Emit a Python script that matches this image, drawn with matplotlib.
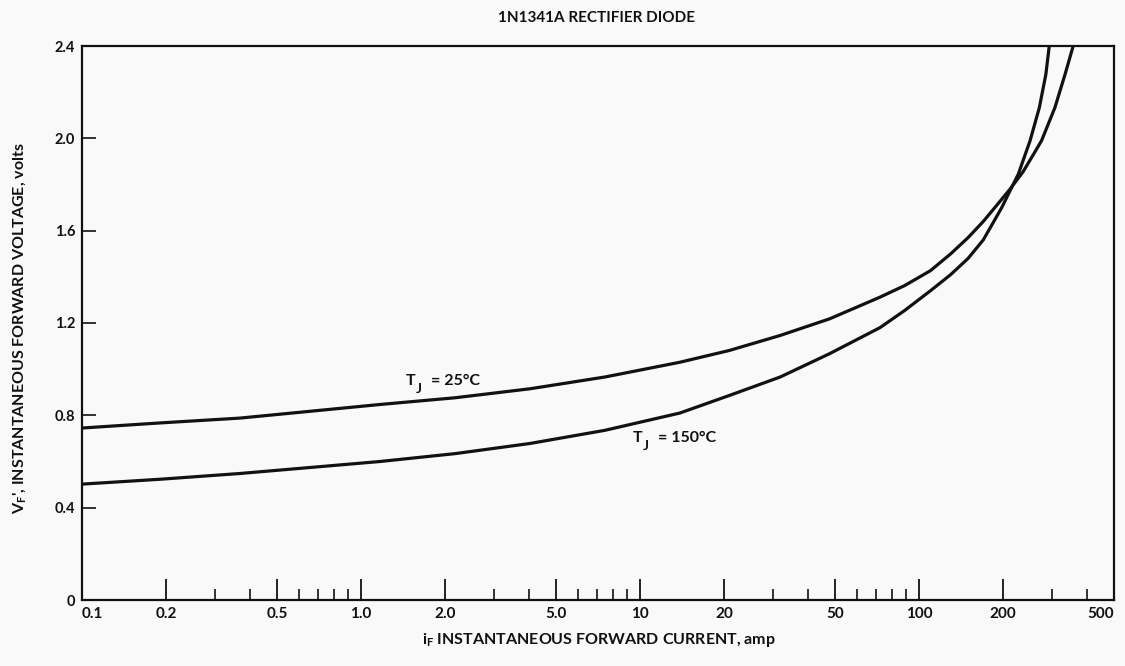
import matplotlib
matplotlib.use("Agg")
import matplotlib.pyplot as plt

# ---- data ----
i_25 = [0.1, 0.19, 0.368, 1.17, 2.17, 4.03, 7.48, 13.9, 20.9, 31.8, 47.8, 72.5, 88.8,
        110, 130, 150, 170, 190, 212, 236, 260, 275, 307, 334, 357]
v_25 = [0.745, 0.767, 0.788, 0.847, 0.876, 0.915, 0.966, 1.03, 1.081, 1.146, 1.218, 1.312, 1.362,
        1.427, 1.50, 1.57, 1.64, 1.71, 1.78, 1.855, 1.94, 1.99, 2.133, 2.278, 2.40]

i_150 = [0.1, 0.19, 0.368, 1.17, 2.17, 4.03, 7.48, 13.9, 20.9, 31.8, 47.8, 72.5, 88.8,
         110, 130, 150, 170, 198, 212, 227, 250, 270, 285, 293]
v_150 = [0.502, 0.523, 0.548, 0.600, 0.634, 0.678, 0.735, 0.810, 0.886, 0.966, 1.067, 1.18, 1.254,
         1.34, 1.41, 1.48, 1.56, 1.70, 1.773, 1.845, 1.989, 2.133, 2.278, 2.40]

x_major = [0.1, 0.2, 0.5, 1, 2, 5, 10, 20, 50, 100, 200, 500]
x_major_labels = ["0.1", "0.2", "0.5", "1.0", "2.0", "5.0", "10", "20", "50", "100", "200", "500"]
x_minor = [0.3, 0.4, 0.6, 0.7, 0.8, 0.9, 3, 4, 6, 7, 8, 9, 30, 40, 60, 70, 80, 90, 300, 400]
y_ticks = [0, 0.4, 0.8, 1.2, 1.6, 2.0, 2.4]
y_labels = ["0", "0.4", "0.8", "1.2", "1.6", "2.0", "2.4"]

curve_label_rest = ["= 25°C", "= 150°C"]
curve_label_pos = [(1.45, 0.93), (9.44, 0.683)]

title = "1N1341A RECTIFIER DIODE"
xlabel = r"i$_{\mathregular{F}}$ INSTANTANEOUS FORWARD CURRENT, amp"
ylabel = r"V$_{\mathregular{F}}$', INSTANTANEOUS FORWARD VOLTAGE, volts"

# ---- figure ----
plt.rcParams['font.family'] = ['Lato', 'DejaVu Sans']
W, H = 1125, 666
fig = plt.figure(figsize=(W / 100, H / 100), dpi=100)
bg = "#f9f9f9"
fig.patch.set_facecolor(bg)
ax = fig.add_axes([82 / W, 66 / H, (1114 - 82) / W, (600 - 46) / H])
ax.set_facecolor(bg)

ink = "#111111"
ax.plot(i_25, v_25, color=ink, lw=2.3, solid_joinstyle="round")
ax.plot(i_150, v_150, color=ink, lw=2.3, solid_joinstyle="round")

ax.set_xscale("log")
ax.set_xlim(0.1, 500)
ax.set_ylim(0, 2.4)

ax.set_xticks(x_major)
ax.set_xticklabels(x_major_labels)
ax.set_xticks(x_minor, minor=True)
ax.set_xticklabels([], minor=True)
ax.set_yticks(y_ticks)
ax.set_yticklabels(y_labels)

ax.tick_params(axis="x", which="major", direction="in", length=15, width=1.3,
               color=ink, labelsize=11, pad=5, labelcolor=ink)
ax.tick_params(axis="x", which="minor", direction="in", length=8, width=1.2, color=ink)
ax.tick_params(axis="y", which="major", direction="in", length=10, width=1.2,
               color=ink, labelsize=10.5, pad=5, labelcolor=ink)
ax.tick_params(axis="y", which="minor", left=False)

xl = ax.get_xticklabels()
xl[0].set_ha("left")
xl[-1].set_ha("right")
for t in ax.get_xticklabels() + ax.get_yticklabels():
    t.set_fontweight("bold")

for s in ax.spines.values():
    s.set_linewidth(1.6)
    s.set_color(ink)

# curve labels: "T" with a large, low subscript "J", then the rest
px = 0.72  # points per pixel at 100 dpi
for rest, (xx, yy) in zip(curve_label_rest, curve_label_pos):
    ax.annotate("T", (xx, yy), xytext=(0, 0), textcoords="offset points",
                fontsize=11.5, fontweight="bold", color=ink, ha="left", va="baseline")
    ax.annotate("J", (xx, yy), xytext=(10 * px, -8 * px), textcoords="offset points",
                fontsize=10, fontweight="bold", color=ink, ha="left", va="baseline")
    ax.annotate(rest, (xx, yy), xytext=(25 * px, 0), textcoords="offset points",
                fontsize=11.5, fontweight="bold", color=ink, ha="left", va="baseline")

fig.text(597 / W, 1 - 18 / H, title, ha="center", va="center",
         fontsize=11, fontweight="bold", color=ink)
fig.text(599 / W, 1 - 640 / H, xlabel, ha="center", va="center",
         fontsize=11.5, fontweight="bold", color=ink)
fig.text(20 / W, 1 - 328 / H, ylabel, ha="center", va="center", rotation=90,
         fontsize=11.5, fontweight="bold", color=ink)

fig.savefig("out.png", dpi=100, facecolor=fig.get_facecolor())
